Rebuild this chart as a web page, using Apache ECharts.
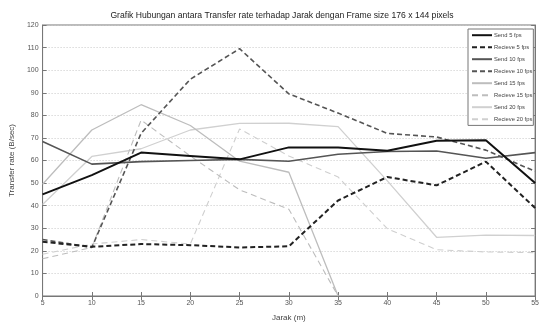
<!DOCTYPE html>
<html>
<head>
<meta charset="utf-8">
<script src="https://cdn.jsdelivr.net/npm/echarts@6/dist/echarts.min.js"></script>
<style>
html,body{margin:0;padding:0;background:#fff;}
#chart{width:542px;height:327px;}
</style>
</head>
<body>
<div id="chart"></div>
<script>
// Data
var jarak = [5, 10, 15, 20, 25, 30, 35, 40, 45, 50, 55];
var send5     = [45, 53.5, 63.5, 62, 60.5, 65.8, 65.8, 64.3, 68.7, 69, 50];
var receive5  = [24, 21.8, 23, 22.5, 21.5, 22, 42.3, 52.7, 49, 59.5, 39];
var send10    = [68.4, 58.4, 59.5, 60, 60.5, 59.7, 62.8, 64, 64.2, 61, 63.5];
var receive10 = [25, 21.5, 72, 96, 109.5, 89.5, 81, 72, 70.4, 64.6, 55.2];
var send15    = [49.5, 73.5, 84.7, 75.5, 59.7, 54.8, 0, null, null, null, null];
var receive15 = [16.5, 21.5, 77.9, 62, 47, 38.4, 0, null, null, null, null];
var send20    = [40.5, 61.8, 65.2, 73.5, 76.4, 76.5, 75, 51, 26, 27, 26.8];
var receive20 = [18.5, 23, 25, 23, 74, 62, 52.7, 29.8, 20.5, 19.5, 19.2];
var seriesNames = ['Send 5 fps', 'Recieve 5 fps', 'Send 10 fps', 'Recieve 10 fps',
                   'Send 15 fps', 'Recieve 15 fps', 'Send 20 fps', 'Recieve 20 fps'];
var yTicks = [0, 10, 20, 30, 40, 50, 60, 70, 80, 90, 100, 110, 120];

var values = [send5, receive5, send10, receive10, send15, receive15, send20, receive20];
var styles = [
  {color: '#111111', width: 2, type: 'solid'},
  {color: '#222222', width: 2, type: [5, 3]},
  {color: '#555555', width: 1.6, type: 'solid'},
  {color: '#555555', width: 1.6, type: [5, 3]},
  {color: '#bdbdbd', width: 1.3, type: 'solid'},
  {color: '#bdbdbd', width: 1.1, type: [6, 4]},
  {color: '#d0d0d0', width: 1.3, type: 'solid'},
  {color: '#cfcfcf', width: 1.1, type: [6, 4]}
];
var FONT = '"Liberation Sans", Arial, sans-serif';

var series = values.map(function (arr, i) {
  return {
    name: seriesNames[i],
    type: 'line',
    symbol: 'none',
    animation: false,
    connectNulls: false,
    z: 10 - i,
    lineStyle: styles[i],
    itemStyle: {color: styles[i].color},
    data: jarak.map(function (x, j) { return [x, arr[j]]; })
  };
});

var chart = echarts.init(document.getElementById('chart'));
chart.setOption({
  animation: false,
  backgroundColor: '#ffffff',
  textStyle: {fontFamily: FONT},
  title: {
    text: 'Grafik Hubungan antara Transfer rate terhadap Jarak dengan Frame size 176 x 144 pixels',
    left: 277, top: 6, textAlign: 'center',
    textStyle: {fontFamily: FONT, fontSize: 8.6, fontWeight: 'normal', color: '#222'}
  },
  grid: {left: 37, right: 5, top: 25, bottom: 27, show: true, borderColor: '#777', borderWidth: 1, containLabel: false},
  legend: {
    orient: 'vertical', left: 468, top: 29,
    backgroundColor: '#fff', borderColor: '#777', borderWidth: 1,
    padding: [3, 1, 3, 3], itemWidth: 20, itemHeight: 8, itemGap: 5.6,
    itemStyle: {opacity: 0},
    textStyle: {fontFamily: FONT, fontSize: 5.8, color: '#444', padding: [0, 0, 0, -3]},
    data: seriesNames
  },
  xAxis: [{
    type: 'value', min: 5, max: 55, interval: 5,
    name: 'Jarak (m)', nameLocation: 'middle', nameGap: 18,
    nameTextStyle: {fontFamily: FONT, fontSize: 8, color: '#444'},
    axisLine: {show: true, lineStyle: {color: '#777'}},
    axisTick: {show: true, inside: true, length: 4, lineStyle: {color: '#777'}},
    axisLabel: {fontFamily: FONT, fontSize: 7, color: '#555', margin: 4},
    splitLine: {show: false}
  }, {
    type: 'value', min: 5, max: 55, interval: 5, position: 'top',
    axisLine: {show: true, lineStyle: {color: '#777'}},
    axisTick: {show: true, inside: true, length: 4, lineStyle: {color: '#777'}},
    axisLabel: {show: false}, splitLine: {show: false}
  }],
  yAxis: [{
    type: 'value', min: 0, max: 120, interval: 10,
    name: 'Transfer rate (B/sec)', nameLocation: 'middle', nameGap: 16,
    nameTextStyle: {fontFamily: FONT, fontSize: 8, color: '#444'},
    axisLine: {show: true, lineStyle: {color: '#777'}},
    axisTick: {show: true, inside: true, length: 4, lineStyle: {color: '#777'}},
    axisLabel: {fontFamily: FONT, fontSize: 7, color: '#555', margin: 4,
      formatter: function (v) { return yTicks.indexOf(v) >= 0 ? String(v) : ''; }},
    splitLine: {show: true, lineStyle: {color: '#c8c8c8', type: [1, 2], width: 1}}
  }, {
    type: 'value', min: 0, max: 120, interval: 10, position: 'right',
    axisLine: {show: true, lineStyle: {color: '#777'}},
    axisTick: {show: true, inside: true, length: 4, lineStyle: {color: '#777'}},
    axisLabel: {show: false}, splitLine: {show: false}
  }],
  series: series
});
</script>
</body>
</html>
